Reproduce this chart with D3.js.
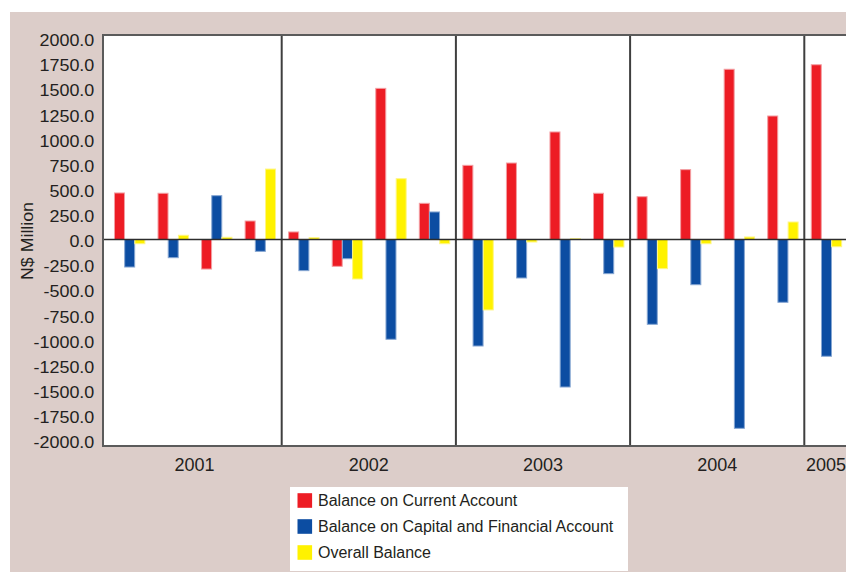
<!DOCTYPE html>
<html>
<head>
<meta charset="utf-8">
<script src="https://cdn.jsdelivr.net/npm/d3@7"></script>
<style>
  html, body { margin: 0; padding: 0; background: #ffffff; }
  svg { display: block; }
  text { font-family: "Liberation Sans", Arial, sans-serif; fill: #231f20; }
</style>
</head>
<body>
<svg id="chart" width="846" height="572"></svg>
<script>
// ---- data ----
const quarters = ["2001Q1","2001Q2","2001Q3","2001Q4",
                  "2002Q1","2002Q2","2002Q3","2002Q4",
                  "2003Q1","2003Q2","2003Q3","2003Q4",
                  "2004Q1","2004Q2","2004Q3","2004Q4",
                  "2005Q1"];
const years = ["2001","2002","2003","2004","2005"];
const seriesNames = ["Balance on Current Account",
                     "Balance on Capital and Financial Account",
                     "Overall Balance"];
const currentAccount = [463, 460, -294, 184, 75, -267, 1504, 360, 738, 761, 1070, 460, 426, 695, 1694, 1229, 1739];
const capitalFinancial = [-274, -181, 436, -118, -310, -191, -993, 274, -1060, -383, -1468, -340, -844, -450, -1879, -625, -1162];
const overallBalance = [-42, 42, 22, 701, 18, -393, 605, -42, -701, -25, 8, -75, -290, -42, 25, 174, -72];
const yTicks = [2000, 1750, 1500, 1250, 1000, 750, 500, 250, 0, -250, -500, -750, -1000, -1250, -1500, -1750, -2000];
const colors = ["#ed1c24", "#0c4da2", "#fff200"];
const edgeColors = ["#f39ea2", "#86a6d2", "#fff685"];

const seriesValues = [currentAccount, capitalFinancial, overallBalance];

const svg = d3.select("#chart");
const W = 846, H = 572;

// background panel
svg.append("rect").attr("x", 10).attr("y", 12).attr("width", W - 10).attr("height", H - 12)
   .attr("fill", "#dccdc9");

const plotLeft = 103, plotTop = 35, plotBottom = 446, plotRight = 852;

// scales
const x = d3.scaleBand().domain(quarters).range([107.5, 107.5 + 17 * 43.55]).padding(0);
const bw = x.bandwidth();
const x1 = d3.scaleBand().domain(seriesNames).range([bw / 2 - 15.3, bw / 2 + 15.3]).padding(0);
const y = d3.scaleLinear().domain([-2055, 2035]).range([plotBottom, plotTop]);

// plot area
svg.append("rect").attr("x", plotLeft).attr("y", plotTop)
   .attr("width", plotRight - plotLeft).attr("height", plotBottom - plotTop)
   .attr("fill", "#ffffff").attr("stroke", "#5b5b5b").attr("stroke-width", 2);

// bars
const rows = quarters.map((q, i) => ({ q, vals: seriesValues.map((s, k) => ({ name: seriesNames[k], k, v: s[i] })) }));
const g = svg.append("g");
const groups = g.selectAll("g.q").data(rows).join("g")
   .attr("class", "q")
   .attr("transform", d => `translate(${x(d.q)},0)`);
groups.selectAll("rect").data(d => d.vals).join("rect")
   .attr("x", d => x1(d.name) + 0.5)
   .attr("width", x1.bandwidth() - 0.2)
   .attr("y", d => Math.min(y(d.v), y(0)))
   .attr("height", d => Math.abs(y(d.v) - y(0)))
   .attr("fill", d => colors[d.k])
   .attr("stroke", d => edgeColors[d.k])
   .attr("stroke-width", 1);

// year dividers
[4, 8, 12, 16].forEach(i => {
  svg.append("line")
     .attr("x1", x(quarters[i])).attr("x2", x(quarters[i]))
     .attr("y1", plotTop).attr("y2", plotBottom)
     .attr("stroke", "#3f3f3f").attr("stroke-width", 2);
});

// zero line
svg.append("line").attr("x1", plotLeft).attr("x2", plotRight)
   .attr("y1", y(0)).attr("y2", y(0))
   .attr("stroke", "#2d2d2d").attr("stroke-width", 1.6);

// redraw frame edges on top
svg.append("rect").attr("x", plotLeft).attr("y", plotTop)
   .attr("width", plotRight - plotLeft).attr("height", plotBottom - plotTop)
   .attr("fill", "none").attr("stroke", "#5b5b5b").attr("stroke-width", 2);

// y axis
const fmt = d3.format(".1f");
const yAxis = d3.axisLeft(y).tickValues(yTicks)
   .tickFormat(d => fmt(d).replace("\u2212", "-"))
   .tickSize(0).tickPadding(0);
const ya = svg.append("g").attr("transform", `translate(${plotLeft},0)`).call(yAxis);
ya.select(".domain").remove();
ya.selectAll("text")
  .attr("x", -7.8).attr("dy", "0.45em")
  .attr("transform", "scale(1.12,1)")
  .style("font-size", "16px")
  .style("font-family", "'Liberation Sans', Arial, sans-serif")
  .attr("fill", "#231f20");

// y axis title
svg.append("text")
   .attr("transform", "translate(33,241) rotate(-90) scale(1.11,1)")
   .attr("text-anchor", "middle")
   .style("font-size", "16px")
   .text("N$ Million");

// year labels
years.forEach(yr => {
  const qs = quarters.filter(q => q.startsWith(yr));
  const x0 = Math.max(plotLeft, x(qs[0]));
  const xEnd = x(qs[qs.length - 1]) + bw;
  svg.append("text")
     .attr("x", (x0 + xEnd) / 2).attr("y", 471)
     .attr("text-anchor", "middle")
     .style("font-size", "18px")
     .text(yr);
});

// legend
const lg = svg.append("g");
lg.append("rect").attr("x", 290).attr("y", 487).attr("width", 338).attr("height", 84).attr("fill", "#ffffff");
const legendRows = lg.selectAll("g.item").data(seriesNames).join("g")
   .attr("class", "item")
   .attr("transform", (d, i) => `translate(0,${500.5 + i * 26})`);
legendRows.append("rect").attr("x", 297.5).attr("y", -7.3).attr("width", 14.6).attr("height", 14.6)
   .attr("fill", (d, i) => colors[i]);
legendRows.append("text").attr("x", 318).attr("y", 5.6)
   .style("font-size", "16px")
   .text(d => d);
</script>
</body>
</html>
